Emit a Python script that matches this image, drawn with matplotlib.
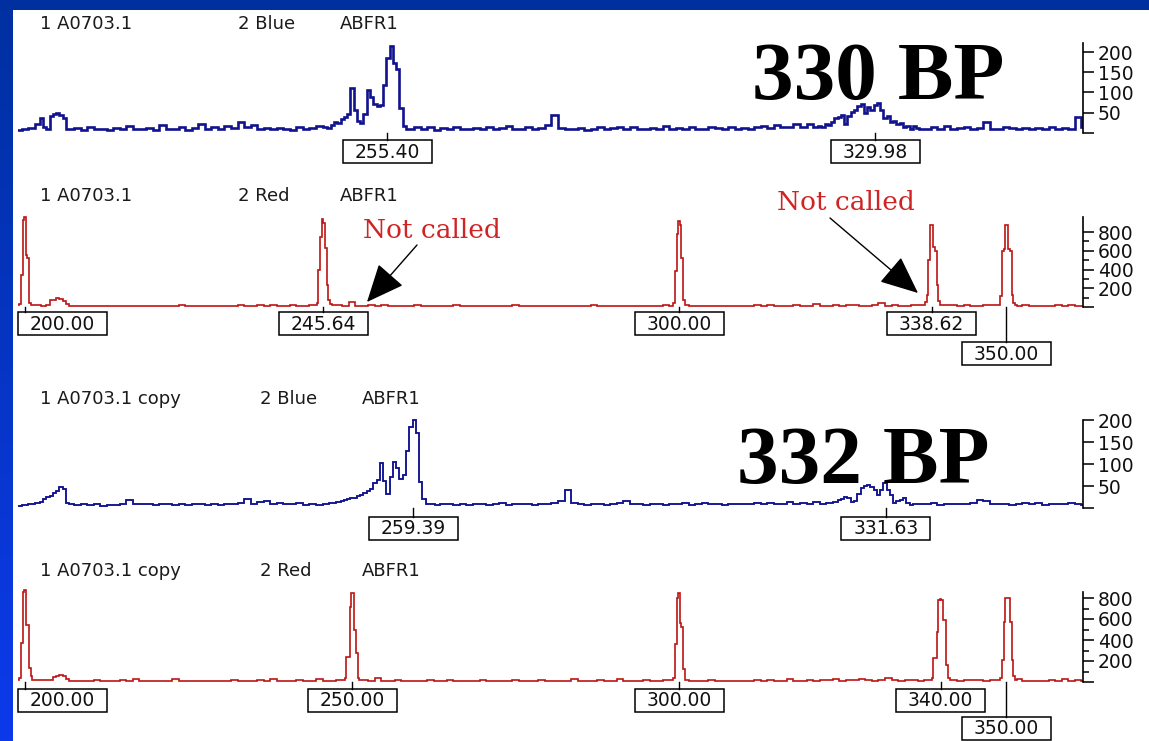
import numpy as np
import matplotlib
matplotlib.use("Agg")
import matplotlib.pyplot as plt
from matplotlib.patches import Rectangle

# ---------------------------------------------------------------- data
# baseline readings at whole base-pair positions 199 ... 362
BLUE1_BASE = [8, 10, 13, 18, 30, 45, 48, 20, 10, 12,
              8, 14, 9, 11, 7, 12, 10, 18, 9, 11,
              13, 8, 20, 10, 9, 16, 8, 12, 22, 10,
              14, 9, 18, 12, 28, 15, 20, 11, 12, 9,
              13, 10, 8, 16, 9, 12, 18, 14, 25, 32,
              45, 100, 30, 60, 95, 70, 120, 210, 160, 20,
              10, 16, 9, 14, 8, 12, 10, 15, 9, 11,
              13, 9, 16, 10, 12, 18, 9, 11, 14, 10,
              12, 20, 45, 12, 10, 9, 13, 8, 11, 15,
              9, 12, 14, 10, 16, 11, 9, 13, 10, 18,
              9, 12, 10, 15, 11, 9, 14, 12, 10, 16,
              11, 13, 9, 15, 18, 12, 20, 14, 16, 22,
              16, 22, 18, 24, 30, 40, 25, 50, 58, 66,
              48, 62, 50, 30, 24, 16, 10, 17, 12, 9,
              14, 11, 18, 9, 12, 15, 10, 13, 26, 11,
              9, 14, 12, 10, 13, 9, 12, 11, 14, 10,
              12, 9, 40, 15]
BLUE1_BUMP_BP = [202.0, 202.5, 203.0, 203.5, 204.0, 204.5, 205.0, 205.5, 206.0, 206.5]
BLUE1_BUMP_RFU = [22, 36, 15, 10, 42, 48, 50, 45, 38, 10]
BLUE1_PEAK_BP = [246.0, 246.5, 247.0, 247.5, 248.0, 248.5, 249.0, 249.5, 250.0, 250.5,
                 251.0, 251.5, 252.0, 252.5, 253.0, 253.5, 254.0, 254.5, 255.0, 255.5,
                 256.0, 256.5, 257.0, 257.5, 258.0, 258.5]
BLUE1_PEAK_RFU = [14, 12, 20, 26, 24, 34, 40, 48, 112, 58,
                  30, 24, 48, 106, 88, 72, 66, 70, 118, 185,
                  216, 172, 158, 62, 18, 10]
BLUE1_WIDE_BP = [321.0, 321.5, 322.0, 322.5, 323.0, 323.5, 324.0, 324.5, 325.0, 325.5,
                 326.0, 326.5, 327.0, 327.5, 328.0, 328.5, 329.0, 329.5, 330.0, 330.5,
                 331.0, 331.5, 332.0, 332.5, 333.0, 333.5, 334.0, 334.5, 335.0, 335.5,
                 336.0, 336.5, 337.0]
BLUE1_WIDE_RFU = [14, 18, 16, 22, 20, 26, 36, 40, 44, 22,
                  42, 52, 58, 66, 72, 50, 64, 58, 70, 74,
                  56, 38, 42, 28, 30, 22, 24, 15, 18, 10,
                  17, 12, 9]

RED2_BASE = [15, 900, 20, 18, 15, 60, 95, 70, 25, 15,
             12, 14, 12, 15, 13, 12, 16, 12, 14, 13,
             12, 15, 13, 12, 14, 18, 13, 12, 15, 13,
             14, 12, 16, 13, 25, 14, 12, 18, 15, 22,
             14, 12, 18, 16, 14, 20, 900, 30, 15, 25,
             14, 50, 16, 14, 18, 15, 20, 14, 16, 13,
             15, 18, 14, 12, 16, 14, 13, 17, 14, 12,
             14, 16, 12, 15, 13, 14, 18, 12, 14, 15,
             13, 14, 12, 16, 14, 13, 15, 12, 18, 14,
             12, 15, 13, 14, 12, 16, 14, 13, 15, 20,
             14, 900, 16, 13, 12, 15, 14, 13, 16, 12,
             14, 13, 15, 20, 14, 25, 13, 16, 14, 18,
             13, 15, 30, 14, 16, 18, 15, 20, 17, 14,
             16, 18, 45, 15, 20, 16, 14, 18, 25, 300,
             30, 14, 18, 25, 15, 20, 16, 14, 18, 20,
             300, 800, 30, 14, 18, 16, 14, 12, 15, 20,
             14, 25, 16, 14]
RED2_P1_BP = [199.0, 199.25, 199.5, 199.75, 200.0, 200.25, 200.5, 200.75, 201.0]
RED2_P1_RFU = [20, 30, 340, 930, 960, 556, 520, 40, 20]
RED2_BUMP_BP = [203.5, 204.0, 204.5, 205.0, 205.5, 206.0, 206.5, 207.0]
RED2_BUMP_RFU = [20, 70, 80, 96, 90, 60, 30, 15]
RED2_P2_BP = [244.5, 244.75, 245.0, 245.25, 245.5, 245.75, 246.0, 246.25, 246.5, 246.75, 247.0]
RED2_P2_RFU = [18, 40, 390, 750, 935, 900, 630, 240, 80, 30, 20]
RED2_P3_BP = [299.0, 299.25, 299.5, 299.75, 300.0, 300.25, 300.5, 300.75, 301.0]
RED2_P3_RFU = [16, 40, 380, 780, 920, 880, 520, 80, 20]
RED2_P4_BP = [337.5, 337.75, 338.0, 338.25, 338.5, 338.75, 339.0, 339.25, 339.5, 339.75, 340.0]
RED2_P4_RFU = [20, 50, 128, 500, 880, 870, 640, 600, 235, 60, 20]
RED2_P5_BP = [349.0, 349.25, 349.5, 349.75, 350.0, 350.25, 350.5, 350.75, 351.0, 351.25, 351.5]
RED2_P5_RFU = [18, 120, 600, 620, 880, 880, 620, 600, 130, 40, 18]

BLUE3_BASE = [5, 7, 9, 14, 25, 34, 46, 12, 8, 6,
              9, 6, 8, 5, 7, 6, 10, 18, 9, 8,
              10, 7, 9, 8, 6, 9, 7, 10, 8, 6,
              9, 7, 8, 10, 12, 20, 10, 14, 16, 9,
              12, 10, 8, 11, 7, 9, 6, 10, 12, 16,
              20, 23, 30, 34, 50, 100, 45, 86, 90, 140,
              200, 60, 15, 9, 7, 10, 8, 6, 9, 7,
              10, 8, 6, 9, 11, 7, 8, 10, 9, 6,
              8, 10, 12, 16, 40, 12, 9, 7, 10, 8,
              6, 9, 11, 16, 10, 8, 7, 10, 9, 6,
              9, 8, 11, 7, 9, 12, 8, 10, 7, 9,
              8, 10, 9, 12, 8, 11, 9, 10, 13, 9,
              11, 10, 14, 9, 12, 15, 20, 14, 30, 45,
              48, 30, 57, 34, 11, 18, 7, 10, 8, 9,
              11, 7, 9, 8, 10, 9, 12, 18, 16, 9,
              8, 10, 7, 9, 12, 8, 11, 7, 9, 10,
              8, 12, 9, 6]
BLUE3_BUMP_BP = [202.0, 202.5, 203.0, 203.5, 204.0, 204.5, 205.0, 205.5, 206.0, 206.5, 207.0]
BLUE3_BUMP_RFU = [12, 14, 20, 25, 28, 33, 38, 47, 44, 12, 8]
BLUE3_PEAK_BP = [248.0, 248.5, 249.0, 249.5, 250.0, 250.5, 251.0, 251.5, 252.0, 252.5,
                 253.0, 253.5, 254.0, 254.5, 255.0, 255.5, 256.0, 256.5, 257.0, 257.5,
                 258.0, 258.5, 259.0, 259.5, 260.0, 260.5, 261.0, 261.5, 262.0, 262.5]
BLUE3_PEAK_RFU = [14, 16, 18, 20, 23, 22, 28, 30, 34, 38,
                  44, 56, 64, 102, 62, 32, 70, 104, 90, 66,
                  75, 130, 185, 200, 170, 60, 20, 10, 10, 8]
BLUE3_WIDE_BP = [324.0, 324.5, 325.0, 325.5, 326.0, 326.5, 327.0, 327.5, 328.0, 328.5,
                 329.0, 329.5, 330.0, 330.5, 331.0, 331.5, 332.0, 332.5, 333.0, 333.5,
                 334.0, 334.5, 335.0, 335.5, 336.0]
BLUE3_WIDE_RFU = [14, 18, 20, 25, 22, 14, 16, 32, 45, 50,
                  52, 48, 40, 30, 42, 57, 40, 30, 11, 16,
                  18, 23, 12, 7, 9]

RED4_BASE = [15, 870, 130, 18, 15, 40, 66, 60, 20, 12,
             14, 12, 15, 13, 12, 14, 16, 12, 30, 13,
             12, 14, 13, 12, 25, 13, 12, 14, 13, 12,
             14, 13, 12, 15, 14, 13, 12, 20, 14, 30,
             14, 13, 12, 15, 14, 13, 25, 14, 12, 15,
             240, 850, 270, 15, 14, 40, 14, 13, 15, 14,
             12, 14, 13, 20, 14, 12, 15, 14, 13, 12,
             14, 15, 13, 12, 14, 13, 15, 12, 14, 13,
             15, 12, 14, 13, 12, 30, 13, 14, 12, 15,
             14, 12, 25, 13, 14, 12, 15, 13, 14, 16,
             20, 850, 20, 14, 13, 12, 15, 14, 13, 12,
             14, 13, 12, 16, 14, 15, 13, 12, 30, 14,
             13, 15, 14, 20, 15, 28, 14, 18, 16, 25,
             15, 14, 20, 35, 16, 14, 18, 15, 14, 15,
             230, 780, 590, 20, 14, 16, 15, 20, 14, 15,
             210, 800, 210, 25, 14, 13, 12, 14, 15, 13,
             25, 14, 20, 14]
RED4_P1_BP = [199.0, 199.25, 199.5, 199.75, 200.0, 200.25, 200.5, 200.75, 201.0, 201.25]
RED4_P1_RFU = [15, 40, 370, 860, 874, 541, 541, 133, 60, 15]
RED4_BUMP_BP = [204.0, 204.5, 205.0, 205.5, 206.0, 206.5, 207.0]
RED4_BUMP_RFU = [20, 45, 60, 66, 55, 25, 14]
RED4_P2_BP = [248.75, 249.0, 249.25, 249.5, 249.75, 250.0, 250.25, 250.5, 250.75, 251.0, 251.25]
RED4_P2_RFU = [15, 40, 238, 238, 712, 845, 845, 500, 275, 40, 15]
RED4_P3_BP = [299.0, 299.25, 299.5, 299.75, 300.0, 300.25, 300.5, 300.75, 301.0]
RED4_P3_RFU = [15, 40, 360, 800, 850, 560, 520, 120, 20]
RED4_P4_BP = [338.5, 338.75, 339.0, 339.25, 339.5, 339.75, 340.0, 340.25, 340.5, 340.75, 341.0, 341.25, 341.5]
RED4_P4_RFU = [15, 40, 228, 228, 475, 779, 790, 779, 589, 589, 161, 40, 15]
RED4_P5_BP = [349.0, 349.25, 349.5, 349.75, 350.0, 350.25, 350.5, 350.75, 351.0, 351.25, 351.5]
RED4_P5_RFU = [15, 40, 209, 570, 798, 798, 798, 570, 209, 60, 15]

BASE_START_BP = 199

HEADERS = [["1 A0703.1", "2 Blue", "ABFR1"],
           ["1 A0703.1", "2 Red", "ABFR1"],
           ["1 A0703.1 copy", "2 Blue", "ABFR1"],
           ["1 A0703.1 copy", "2 Red", "ABFR1"]]
CALLED_1 = [255.40, 329.98]
CALLED_2 = [200.00, 245.64, 300.00, 338.62, 350.00]
CALLED_3 = [259.39, 331.63]
CALLED_4 = [200.00, 250.00, 300.00, 340.00, 350.00]
LOWERED = [350.00]
BLUE_TICKS = [0, 50, 100, 150, 200]
RED_TICKS = [0, 200, 400, 600, 800]
RED_MINOR = [100, 300, 500, 700]
SIZE_TITLES = ["330 BP", "332 BP"]
NOTE = "Not called"


def build(base_vals, segments):
    bx = np.arange(BASE_START_BP, BASE_START_BP + len(base_vals)).astype(float)
    bv = np.array(base_vals, float)
    keep = np.ones(len(bx), bool)
    xs, vs = [], []
    for sx, sv in segments:
        keep &= ~((bx >= min(sx)) & (bx <= max(sx)))
        xs.extend(sx)
        vs.extend(sv)
    x = np.concatenate([bx[keep], np.array(xs, float)])
    v = np.concatenate([bv[keep], np.array(vs, float)])
    o = np.argsort(x)
    return x[o], v[o]


traces = [
    build(BLUE1_BASE, [(BLUE1_BUMP_BP, BLUE1_BUMP_RFU), (BLUE1_PEAK_BP, BLUE1_PEAK_RFU),
                       (BLUE1_WIDE_BP, BLUE1_WIDE_RFU)]),
    build(RED2_BASE, [(RED2_P1_BP, RED2_P1_RFU), (RED2_BUMP_BP, RED2_BUMP_RFU),
                      (RED2_P2_BP, RED2_P2_RFU), (RED2_P3_BP, RED2_P3_RFU),
                      (RED2_P4_BP, RED2_P4_RFU), (RED2_P5_BP, RED2_P5_RFU)]),
    build(BLUE3_BASE, [(BLUE3_BUMP_BP, BLUE3_BUMP_RFU), (BLUE3_PEAK_BP, BLUE3_PEAK_RFU),
                       (BLUE3_WIDE_BP, BLUE3_WIDE_RFU)]),
    build(RED4_BASE, [(RED4_P1_BP, RED4_P1_RFU), (RED4_BUMP_BP, RED4_BUMP_RFU),
                      (RED4_P2_BP, RED4_P2_RFU), (RED4_P3_BP, RED4_P3_RFU),
                      (RED4_P4_BP, RED4_P4_RFU), (RED4_P5_BP, RED4_P5_RFU)]),
]

# ---------------------------------------------------------------- layout
W, H = 1149, 741
L_PX, R_PX = 18, 1083
XMIN, XMAX = 198.93, 361.77
BLUE_C = "#10128e"
RED_C = "#bd1414"

panels = [
    dict(base=133, ppu=0.405, top=222, color=BLUE_C, lw=1.9, ticks=BLUE_TICKS, minor=[],
         called=CALLED_1, head_y=24, head_x=[40, 238, 340], box_off=7, low_off=35),
    dict(base=307, ppu=0.09375, top=960, color=RED_C, lw=1.2, ticks=RED_TICKS, minor=RED_MINOR,
         called=CALLED_2, head_y=196, head_x=[40, 238, 340], box_off=5, low_off=35),
    dict(base=508, ppu=0.44, top=200, color=BLUE_C, lw=1.35, ticks=BLUE_TICKS, minor=[],
         called=CALLED_3, head_y=399, head_x=[40, 260, 362], box_off=9, low_off=35),
    dict(base=682, ppu=0.105, top=857, color=RED_C, lw=1.2, ticks=RED_TICKS, minor=RED_MINOR,
         called=CALLED_4, head_y=571, head_x=[40, 260, 362], box_off=7, low_off=35),
]

fig = plt.figure(figsize=(W / 100, H / 100), dpi=100)
fig.patch.set_facecolor("white")

# background frame (blue border)
bg = fig.add_axes([0, 0, 1, 1], zorder=-10)
bg.set_xlim(0, W)
bg.set_ylim(H, 0)
bg.axis("off")
grad = np.linspace(0, 1, 256)[:, None]
c_top = np.array([0, 48, 160]) / 255
c_bot = np.array([12, 58, 235]) / 255
img = (c_top[None, None, :] * (1 - grad[..., None]) + c_bot[None, None, :] * grad[..., None])
bg.imshow(img, extent=[0, 12.5, H, 0], aspect="auto")
bg.add_patch(Rectangle((0, 0), W, 9.5, color="#0030a0", lw=0))

ov = fig.add_axes([0, 0, 1, 1], zorder=10)
ov.set_xlim(0, W)
ov.set_ylim(H, 0)
ov.axis("off")
ov.patch.set_alpha(0)

for i, (p, (tx, tv)) in enumerate(zip(panels, traces)):
    ylo = -0.03 * p["top"]
    yhi = p["top"] * 1.04
    top_px = p["base"] - yhi * p["ppu"]
    bot_px = p["base"] - ylo * p["ppu"]
    ax = fig.add_axes([L_PX / W, 1 - bot_px / H, (R_PX - L_PX) / W, (bot_px - top_px) / H])
    ax.patch.set_alpha(0)
    ax.set_xlim(XMIN, XMAX)
    ax.set_ylim(ylo, yhi)
    ax.plot(tx, tv, drawstyle="steps-mid", color=p["color"], lw=p["lw"],
            solid_joinstyle="miter")
    for s in ["left", "top", "bottom"]:
        ax.spines[s].set_visible(False)
    ax.spines["right"].set_bounds(0, p["top"])
    ax.spines["right"].set_linewidth(1.2)
    ax.set_xticks([])
    ax.yaxis.tick_right()
    ax.set_yticks(p["ticks"])
    ax.set_yticklabels([""] + [str(t) for t in p["ticks"][1:]])
    if p["minor"]:
        ax.set_yticks(p["minor"], minor=True)
    ax.tick_params(axis="y", which="major", direction="out", length=8, width=1.2,
                   pad=2.5, labelsize=13.5, colors="#111111")
    ax.tick_params(axis="y", which="minor", direction="out", length=4, width=1.1)

    # header
    for hx, txt in zip(p["head_x"], HEADERS[i]):
        ov.text(hx, p["head_y"], txt, fontsize=13, color="#1a1a1a", ha="left", va="center",
                family="DejaVu Sans")

    # called-size labels
    for val in p["called"]:
        xpx = ax.transData.transform((val, 0))[0]
        off = p["low_off"] if val in LOWERED else p["box_off"]
        btop = p["base"] + off
        bw, bh = 89, 23
        left = max(xpx - bw / 2, L_PX)
        ov.plot([xpx, xpx], [p["base"], btop], color="black", lw=1.0)
        ov.add_patch(Rectangle((left, btop), bw, bh, facecolor="white", edgecolor="black",
                               lw=1.1))
        ov.text(left + bw / 2, btop + bh / 2 + 0.5, f"{val:.2f}", fontsize=13.5,
                color="#111111", ha="center", va="center", family="DejaVu Sans")

# big size titles
ov.text(878, 99, SIZE_TITLES[0], fontsize=60, fontweight="bold", family="Liberation Serif",
        ha="center", va="baseline", color="black")
ov.text(863, 483, SIZE_TITLES[1], fontsize=60, fontweight="bold", family="Liberation Serif",
        ha="center", va="baseline", color="black")

# "Not called" notes and arrows
ov.text(432, 231, NOTE, fontsize=19, family="DejaVu Serif", color="#d02424",
        ha="center", va="center")
ov.text(846, 203, NOTE, fontsize=19, family="DejaVu Serif", color="#d02424",
        ha="center", va="center")
arrow_style = "-|>,head_length=2.4,head_width=1.05"
ov.annotate("", xy=(367, 302), xytext=(417, 245),
            arrowprops=dict(arrowstyle=arrow_style, color="black", lw=1.0,
                            shrinkA=0, shrinkB=0, mutation_scale=10))
ov.annotate("", xy=(918, 293), xytext=(830, 218),
            arrowprops=dict(arrowstyle=arrow_style, color="black", lw=1.0,
                            shrinkA=0, shrinkB=0, mutation_scale=10))

fig.savefig("out.png", dpi=100, facecolor=fig.get_facecolor())
